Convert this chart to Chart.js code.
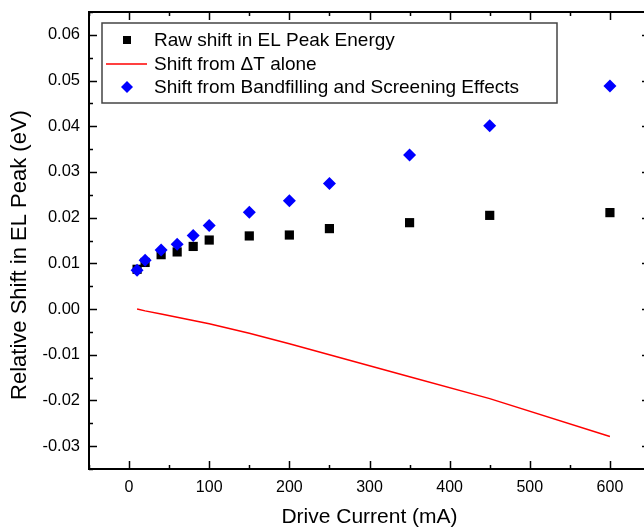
<!DOCTYPE html>
<html>
<head>
<meta charset="utf-8">
<script src="https://cdn.jsdelivr.net/npm/chart.js@4"></script>
<style>
  html, body { margin: 0; padding: 0; background: #fff; overflow: hidden; }
  #wrap { width: 660px; height: 528px; }
</style>
</head>
<body>
<div id="wrap"><canvas id="elChart"></canvas></div>
<script>
// drive current (mA) and the three shifts (eV)
const currents = [10, 20, 40, 60, 80, 100, 150, 200, 250, 350, 450, 600];
const rawShift = [0.0087, 0.0102, 0.0119, 0.0125, 0.0137, 0.0151, 0.0160, 0.0162, 0.0176, 0.0189, 0.0205, 0.0211];
const thermalShift = [0.0000, -0.0004, -0.0011, -0.0018, -0.0025, -0.0032, -0.0053, -0.0076, -0.0100, -0.0148, -0.0196, -0.0279];
const bandShift = [0.0085, 0.0107, 0.0129, 0.0142, 0.0161, 0.0183, 0.0212, 0.0237, 0.0275, 0.0337, 0.0401, 0.0488];

const seriesNames = ['Raw shift in EL Peak Energy', 'Shift from \u0394T alone', 'Shift from Bandfilling and Screening Effects'];
const yTitle = 'Relative Shift in EL Peak (eV)';

const FONT = "'Liberation Sans', Arial, sans-serif";

function pts(ys) {
  return currents.map((x, i) => ({ x, y: ys[i] }));
}

// frame + inward ticks on all four sides, plus the y title
const framePlugin = {
  id: 'frame',
  afterDraw(chart) {
    const { ctx, chartArea: a, scales } = chart;
    ctx.save();
    ctx.strokeStyle = '#000';
    ctx.lineWidth = 1.5;
    scales.x.ticks.forEach(t => {
      const px = Math.round(scales.x.getPixelForValue(t.value)) + 0.5;
      const len = t.value % 100 === 0 ? 8 : 4;
      ctx.beginPath();
      ctx.moveTo(px, a.bottom); ctx.lineTo(px, a.bottom - len);
      ctx.moveTo(px, a.top); ctx.lineTo(px, a.top + len);
      ctx.stroke();
    });
    scales.y.ticks.forEach(t => {
      const py = Math.round(scales.y.getPixelForValue(t.value)) + 0.5;
      const len = Math.round(t.value * 1000) % 10 === 0 ? 8 : 4;
      ctx.beginPath();
      ctx.moveTo(a.left, py); ctx.lineTo(a.left + len, py);
      ctx.moveTo(a.right, py); ctx.lineTo(a.right - len, py);
      ctx.stroke();
    });
    ctx.lineWidth = 2;
    ctx.strokeRect(a.left, a.top, a.right - a.left, a.bottom - a.top);

    // y title sits a bit below the axis centre in the original
    ctx.translate(20, 255);
    ctx.rotate(-Math.PI / 2);
    ctx.fillStyle = '#000';
    ctx.font = '22px ' + FONT;
    ctx.textAlign = 'center';
    ctx.textBaseline = 'middle';
    ctx.fillText(yTitle, 0, 0);
    ctx.restore();
  }
};

// boxed legend inside the plot, top left
const legendPlugin = {
  id: 'boxLegend',
  afterDraw(chart) {
    const ctx = chart.ctx;
    const bx = 102, by = 23, bw = 455, bh = 80;
    ctx.save();
    ctx.fillStyle = '#fff';
    ctx.fillRect(bx, by, bw, bh);
    ctx.strokeStyle = '#444';
    ctx.lineWidth = 1.5;
    ctx.strokeRect(bx, by, bw, bh);

    const rows = [40, 64, 87];
    // square
    ctx.fillStyle = '#000';
    ctx.fillRect(123, rows[0] - 4, 8, 8);
    // red line
    ctx.strokeStyle = '#ff0000';
    ctx.lineWidth = 1.5;
    ctx.beginPath();
    ctx.moveTo(106, rows[1]); ctx.lineTo(147, rows[1]);
    ctx.stroke();
    // diamond
    ctx.fillStyle = '#0000ff';
    ctx.beginPath();
    ctx.moveTo(127, rows[2] - 6); ctx.lineTo(133, rows[2]);
    ctx.lineTo(127, rows[2] + 6); ctx.lineTo(121, rows[2]);
    ctx.closePath();
    ctx.fill();

    ctx.fillStyle = '#000';
    ctx.font = '19px ' + FONT;
    ctx.textBaseline = 'middle';
    ctx.textAlign = 'left';
    seriesNames.forEach((s, i) => ctx.fillText(s, 154, rows[i] + 1));
    ctx.restore();
  }
};

new Chart(document.getElementById('elChart'), {
  type: 'scatter',
  data: {
    datasets: [
      {
        label: seriesNames[0], data: pts(rawShift), order: 2,
        pointStyle: 'rect', pointRadius: 6.5, pointBorderWidth: 0,
        backgroundColor: '#000', borderColor: '#000'
      },
      {
        label: seriesNames[1], data: pts(thermalShift), order: 1,
        showLine: true, pointRadius: 0, borderColor: '#ff0000', borderWidth: 1.5,
        backgroundColor: '#ff0000'
      },
      {
        label: seriesNames[2], data: pts(bandShift), order: 0,
        pointStyle: 'rectRot', pointRadius: 6.5, pointBorderWidth: 0,
        backgroundColor: '#0000ff', borderColor: '#0000ff'
      }
    ]
  },
  options: {
    responsive: true,
    maintainAspectRatio: false,
    animation: false,
    layout: { padding: { left: 0, top: 12, right: 10, bottom: 0 } },
    plugins: { legend: { display: false }, tooltip: { enabled: false } },
    scales: {
      x: {
        type: 'linear', min: -50, max: 650,
        grid: { display: false, drawTicks: false },
        border: { display: false },
        ticks: {
          stepSize: 50, autoSkip: false, maxRotation: 0, padding: 9,
          color: '#000', font: { family: FONT, size: 16 },
          callback: v => (v % 100 === 0 ? String(v) : '')
        },
        title: {
          display: true, text: 'Drive Current (mA)', color: '#000',
          font: { family: FONT, size: 21 }, padding: { top: 0, bottom: -2 }
        },
        afterFit: s => { s.height = 59; s.paddingLeft = 0; s.paddingRight = 0; }
      },
      y: {
        min: -0.035, max: 0.065,
        grid: { display: false, drawTicks: false },
        border: { display: false },
        ticks: {
          stepSize: 0.005, autoSkip: false, padding: 9,
          color: '#000', font: { family: FONT, size: 16.5 },
          callback: v => {
            const k = Math.round(v * 1000);
            if (k % 10 !== 0) return '';
            return (k / 1000).toFixed(2);
          }
        },
        title: { display: false },
        afterFit: s => { s.width = 89; s.paddingTop = 0; s.paddingBottom = 0; }
      }
    }
  },
  plugins: [framePlugin, legendPlugin]
});
</script>
</body>
</html>
